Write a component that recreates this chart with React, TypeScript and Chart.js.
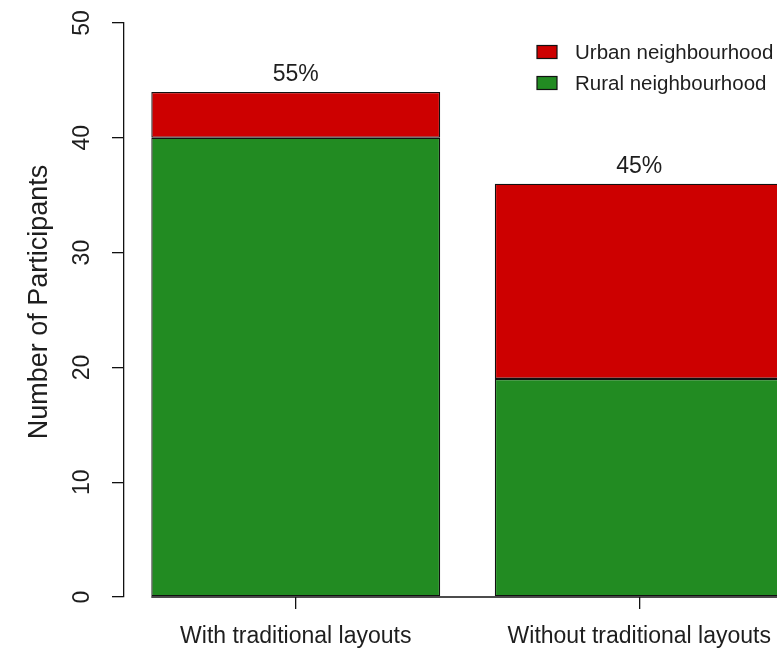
import React, { useEffect, useRef } from "react";
import { Chart, registerables } from "chart.js";

Chart.register(...registerables);

const categories = ["With traditional layouts", "Without traditional layouts"];
const ruralValues = [40, 19];
const urbanValues = [4, 17];
const yTicks = [0, 10, 20, 30, 40, 50];
const seriesNames = ["Rural neighbourhood", "Urban neighbourhood"];
const seriesColors = ["#228B22", "#CD0000"];
const yTitle = "Number of Participants";

const FONT = '"Liberation Sans", Arial, Helvetica, sans-serif';
const INK = "#1e1e1e";
const LINE = "#111111";

const annotatePlugin = {
  id: "annotate",
  afterDatasetsDraw(chart: any) {
    const ctx = chart.ctx;
    const area = chart.chartArea;
    const yScale = chart.scales.y;
    const datasets = chart.data.datasets;
    const metaBottom = chart.getDatasetMeta(0);
    const metaTop = chart.getDatasetMeta(datasets.length - 1);
    ctx.save();

    // baseline at zero from first bar to the right
    const first = metaBottom.data[0];
    const y0 = yScale.getPixelForValue(0);
    ctx.strokeStyle = LINE;
    ctx.lineWidth = 1.3;
    ctx.beginPath();
    ctx.moveTo(first.x - first.width / 2, y0);
    ctx.lineTo(area.right, y0);
    ctx.stroke();

    // percentage labels above stacks
    const totals = categories.map((_, i) =>
      datasets.reduce((s: number, d: any) => s + d.data[i], 0)
    );
    const grand = totals.reduce((a, b) => a + b, 0);
    ctx.font = `23px ${FONT}`;
    ctx.fillStyle = INK;
    ctx.textAlign = "center";
    ctx.textBaseline = "alphabetic";
    totals.forEach((t, i) => {
      const x = metaTop.data[i].x;
      const y = yScale.getPixelForValue(t);
      ctx.fillText(Math.round((t / grand) * 100) + "%", x, y - 11);
    });

    // y axis title
    ctx.save();
    ctx.font = `27px ${FONT}`;
    ctx.fillStyle = INK;
    ctx.textAlign = "center";
    ctx.textBaseline = "middle";
    ctx.translate(40, (area.top + area.bottom) / 2 - 8);
    ctx.rotate(-Math.PI / 2);
    ctx.fillText(yTitle, 0, 0);
    ctx.restore();

    // legend (top right, reversed order)
    const order = datasets.map((_: any, i: number) => i).reverse();
    ctx.font = `20.5px ${FONT}`;
    ctx.textAlign = "left";
    ctx.textBaseline = "middle";
    order.forEach((di: number, row: number) => {
      const d = datasets[di];
      const cy = area.top + 29 + row * 31;
      const bx = area.right - 274;
      ctx.fillStyle = d.backgroundColor;
      ctx.fillRect(bx, cy - 6.5, 20, 13);
      ctx.strokeStyle = LINE;
      ctx.lineWidth = 1.2;
      ctx.strokeRect(bx, cy - 6.5, 20, 13);
      ctx.fillStyle = INK;
      ctx.fillText(d.label, area.right - 236, cy + 1);
    });

    ctx.restore();
  },
};

export default function App() {
  const canvasRef = useRef<HTMLCanvasElement | null>(null);

  useEffect(() => {
    if (!canvasRef.current) return;
    const chart = new Chart(canvasRef.current, {
      type: "bar",
      data: {
        labels: categories,
        datasets: [
          {
            label: seriesNames[0],
            data: ruralValues,
            backgroundColor: seriesColors[0],
            borderColor: LINE,
            borderWidth: 1.3,
            borderSkipped: false,
            barPercentage: 0.841,
            categoryPercentage: 1,
          },
          {
            label: seriesNames[1],
            data: urbanValues,
            backgroundColor: seriesColors[1],
            borderColor: LINE,
            borderWidth: 1.3,
            borderSkipped: false,
            barPercentage: 0.841,
            categoryPercentage: 1,
          },
        ],
      },
      options: {
        animation: false,
        responsive: true,
        maintainAspectRatio: false,
        layout: { padding: { top: 23, left: 0, right: 0, bottom: 0 } },
        plugins: {
          legend: { display: false },
          tooltip: { enabled: false },
        },
        scales: {
          x: {
            stacked: true,
            offset: true,
            grid: {
              display: true,
              drawOnChartArea: false,
              drawTicks: true,
              tickLength: 12,
              color: LINE,
              lineWidth: 1.3,
              offset: false,
            },
            border: { display: false },
            ticks: {
              color: INK,
              font: { family: FONT, size: 23 },
              padding: 14,
              minRotation: 0,
              maxRotation: 0,
              autoSkip: false,
            },
            afterFit: (s: any) => {
              s.height = 57;
              s.paddingLeft = 0;
              s.paddingRight = 0;
            },
          },
          y: {
            stacked: true,
            min: 0,
            max: 50,
            afterBuildTicks: (s: any) => {
              s.ticks = yTicks.map((v) => ({ value: v }));
            },
            grid: {
              drawOnChartArea: false,
              drawTicks: true,
              tickLength: 12,
              color: LINE,
              lineWidth: 1.3,
            },
            border: { display: true, color: LINE, width: 1.3 },
            ticks: {
              color: INK,
              font: { family: FONT, size: 23 },
              padding: 17,
              minRotation: 90,
              maxRotation: 90,
              crossAlign: "center",
            },
            title: { display: false },
            afterFit: (s: any) => {
              s.width = 124;
              s.paddingTop = 0;
              s.paddingBottom = 0;
            },
          },
        },
      },
      plugins: [annotatePlugin],
    } as any);
    return () => chart.destroy();
  }, []);

  return (
    <div
      style={{
        position: "fixed",
        left: 0,
        top: 0,
        width: 777,
        height: 654,
        overflow: "hidden",
        background: "#ffffff",
      }}
    >
      <div style={{ position: "relative", width: 811, height: 654 }}>
        <canvas ref={canvasRef} />
      </div>
    </div>
  );
}
